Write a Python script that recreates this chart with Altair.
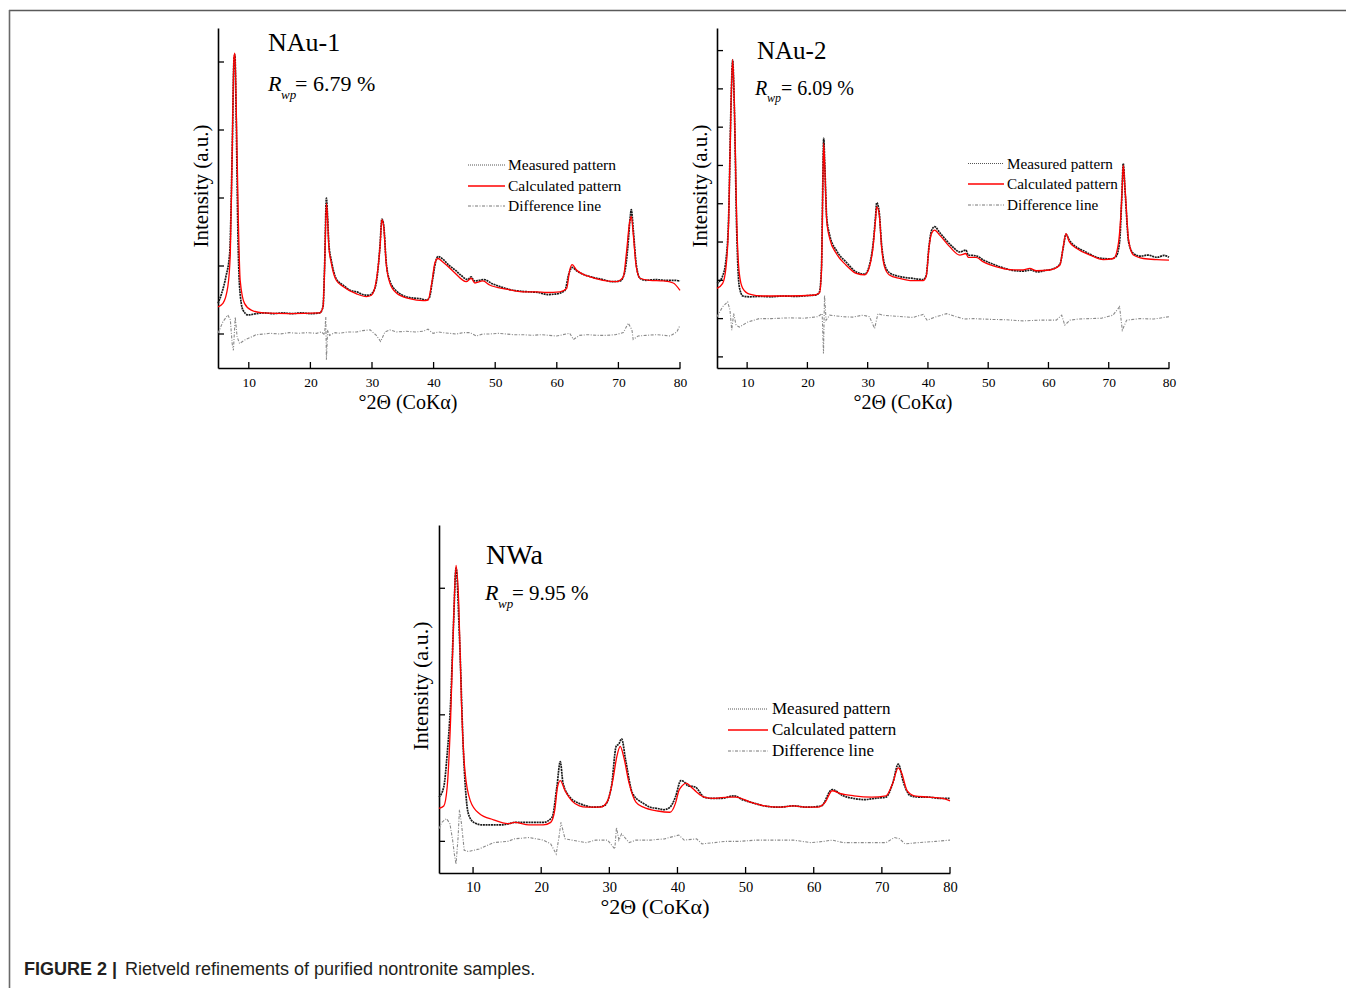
import altair as alt
import pandas as pd

# ---------------- data ----------------
# x = degrees 2-theta (CoKa), y = intensity in tick units of each panel's y axis
X_TICKS = [10, 20, 30, 40, 50, 60, 70, 80]
LEGEND_LABELS = ["Measured pattern", "Calculated pattern", "Difference line"]
SAMPLES = ["NAu-1", "NAu-2", "NWa"]
RWP = ["= 6.79 %", "= 6.09 %", "= 9.95 %"]
X_TITLE = "°2Θ (CoKα)"
Y_TITLE = "Intensity (a.u.)"
CAPTION_BOLD = "FIGURE 2 |"
CAPTION_TEXT = "Rietveld refinements of purified nontronite samples."

# ---- NAu-1 ----
p1_calc_x = [5.0, 5.8, 6.6, 7.0, 7.3, 7.6, 7.75, 7.95, 8.3, 8.6, 9.3, 10.4, 12.3, 16.6, 21.5, 22.05, 22.3, 22.6,
             22.75, 23.0, 23.4, 24.2, 25.3, 27.5, 29.1, 29.9, 30.7, 31.3, 31.6, 31.9, 32.3, 32.9, 34.0, 36.1, 38.3,
             39.1, 39.7, 40.2, 40.7, 41.5, 43.2, 45.3, 46.1, 46.7, 48.0, 49.1, 51.8, 54.5, 56.7, 58.3, 60.5, 61.6,
             62.1, 62.5, 63.2, 65.4, 67.5, 69.7, 70.8, 71.3, 71.8, 72.1, 72.4, 72.9, 73.5, 75.1, 77.3, 78.9, 80.0]
p1_calc_y = [0.40, 0.45, 0.70, 1.19, 2.66, 4.08, 4.13, 3.39, 1.68, 0.79, 0.45, 0.35, 0.31, 0.30, 0.31, 0.40, 0.94,
             1.92, 1.75, 1.28, 1.04, 0.79, 0.70, 0.59, 0.55, 0.57, 0.79, 1.28, 1.68, 1.58, 1.04, 0.75, 0.60, 0.52,
             0.49, 0.50, 0.75, 1.04, 1.11, 1.06, 0.92, 0.77, 0.82, 0.75, 0.78, 0.72, 0.66, 0.62, 0.62, 0.61, 0.62,
             0.67, 0.94, 1.02, 0.94, 0.84, 0.79, 0.77, 0.84, 1.19, 1.63, 1.73, 1.48, 0.99, 0.82, 0.79, 0.78, 0.75,
             0.64]
p1_meas_x = [5.0, 5.6, 6.3, 6.9, 7.3, 7.6, 7.75, 7.95, 8.25, 8.5, 9.06, 9.9, 11.2, 12.5, 14.0, 15.5, 17.0, 18.5,
             20.0, 21.5, 22.05, 22.3, 22.6, 22.75, 23.0, 23.4, 24.2, 25.3, 26.5, 27.5, 28.5, 29.5, 30.2, 30.8, 31.3,
             31.6, 31.9, 32.3, 32.9, 34.0, 35.2, 36.5, 37.8, 38.8, 39.3, 39.8, 40.3, 40.7, 41.5, 42.5, 43.5, 44.5,
             45.5, 46.1, 46.6, 47.4, 48.2, 49.5, 51.0, 52.5, 54.0, 55.5, 57.0, 58.5, 60.0, 61.3, 62.0, 62.5, 63.2,
             64.5, 66.0, 67.5, 69.0, 70.3, 71.0, 71.5, 71.9, 72.1, 72.4, 72.9, 73.5, 74.5, 76.0, 77.5, 79.0, 80.0]
p1_meas_y = [0.45, 0.60, 0.85, 1.19, 2.66, 4.05, 4.10, 3.20, 1.40, 0.70, 0.35, 0.28, 0.30, 0.31, 0.30, 0.31, 0.30,
             0.31, 0.30, 0.31, 0.40, 0.98, 2.00, 1.80, 1.32, 1.08, 0.81, 0.72, 0.64, 0.62, 0.58, 0.57, 0.62, 0.82,
             1.30, 1.69, 1.60, 1.06, 0.78, 0.63, 0.56, 0.53, 0.52, 0.50, 0.53, 0.78, 1.05, 1.14, 1.10, 1.01, 0.94,
             0.86, 0.80, 0.84, 0.78, 0.79, 0.80, 0.74, 0.69, 0.65, 0.63, 0.62, 0.61, 0.58, 0.59, 0.64, 0.90, 0.98,
             0.93, 0.87, 0.83, 0.80, 0.77, 0.78, 0.90, 1.25, 1.70, 1.83, 1.55, 1.02, 0.82, 0.79, 0.80, 0.79, 0.79,
             0.78]
p1_diff_x = [5.0, 5.8, 6.6, 7.0, 7.3, 7.5, 7.8, 8.1, 8.5, 9.3, 10.5, 11.2, 12.5, 13.4, 15.0, 16.6, 18.0, 19.5, 21.0,
             21.8, 22.3, 22.5, 22.6, 22.8, 23.1, 24.0, 24.8, 26.0, 27.5, 28.5, 29.7, 30.7, 31.4, 32.1, 32.9, 34.0,
             35.6, 37.0, 38.3, 39.1, 39.9, 40.8, 41.5, 42.6, 43.7, 44.8, 45.9, 46.96, 48.0, 49.1, 50.5, 51.8, 53.0,
             54.5, 56.0, 57.5, 59.95, 61.0, 62.1, 62.7, 63.7, 65.0, 66.5, 68.1, 69.5, 70.8, 71.6, 72.2, 72.4, 73.2,
             74.5, 76.2, 77.5, 78.4, 79.5, 80.0]
p1_diff_y = [0.01, 0.18, 0.28, 0.21, -0.14, -0.24, 0.25, -0.04, -0.14, -0.09, -0.04, -0.01, 0.00, 0.01, 0.00, 0.02,
             0.01, 0.02, 0.01, 0.03, -0.01, 0.25, -0.38, 0.06, -0.02, 0.02, 0.01, 0.03, 0.03, 0.05, 0.06, -0.02,
             -0.11, 0.03, 0.06, 0.03, 0.04, 0.03, 0.04, 0.07, 0.01, 0.03, 0.02, 0.01, 0.00, 0.02, 0.02, -0.03, 0.00,
             0.00, 0.01, 0.00, -0.01, -0.01, -0.02, -0.01, -0.03, -0.01, 0.01, -0.08, -0.02, -0.01, -0.02, -0.02,
             -0.01, 0.02, 0.16, 0.06, -0.08, -0.03, -0.02, -0.01, -0.02, -0.03, 0.03, 0.13]

# ---- NAu-2 ----
p2_calc_x = [5.0, 5.94, 6.5, 6.94, 7.33, 7.6, 7.88, 8.27, 8.7, 9.27, 10.4, 12.6, 17.0, 20.9, 22.0, 22.34, 22.56,
             22.7, 22.9, 23.2, 23.7, 24.8, 26.4, 28.1, 29.5, 30.3, 30.9, 31.3, 31.5, 31.9, 32.3, 32.8, 33.6, 35.3,
             37.5, 39.2, 39.7, 40.2, 40.6, 41.1, 41.95, 43.6, 45.3, 46.3, 46.7, 48.0, 49.2, 51.4, 53.6, 55.8, 56.9,
             58.0, 60.2, 61.9, 62.45, 62.9, 63.45, 64.7, 66.9, 69.1, 70.8, 71.6, 72.2, 72.4, 72.76, 73.3, 74.1,
             75.75, 77.96, 80.0]
p2_calc_y = [1.79, 1.92, 2.35, 3.57, 6.62, 7.77, 6.62, 3.57, 2.18, 1.79, 1.64, 1.59, 1.59, 1.61, 1.67, 2.27, 4.44,
             5.58, 4.88, 3.57, 3.09, 2.70, 2.40, 2.18, 2.14, 2.35, 2.88, 3.57, 3.92, 3.75, 2.88, 2.35, 2.14, 2.05,
             1.99, 1.99, 2.09, 2.88, 3.22, 3.31, 3.18, 2.88, 2.66, 2.70, 2.60, 2.60, 2.48, 2.35, 2.28, 2.27, 2.31,
             2.25, 2.27, 2.40, 2.88, 3.22, 3.01, 2.83, 2.66, 2.54, 2.57, 2.96, 4.27, 5.01, 4.27, 3.05, 2.66, 2.57,
             2.54, 2.53]
p2_meas_x = [5.0, 5.9, 6.5, 6.94, 7.33, 7.6, 7.88, 8.27, 8.7, 9.3, 10.4, 12.0, 14.0, 16.0, 18.0, 20.0, 21.5, 22.0,
             22.34, 22.56, 22.7, 22.9, 23.2, 23.7, 24.8, 26.4, 28.1, 29.5, 30.3, 30.9, 31.3, 31.5, 31.9, 32.3, 32.8,
             33.6, 35.3, 37.5, 39.2, 39.7, 40.2, 40.6, 41.1, 41.95, 43.0, 44.2, 45.3, 46.3, 46.7, 47.5, 48.2, 49.2,
             50.5, 51.8, 53.0, 54.5, 55.8, 57.0, 58.2, 59.5, 60.8, 61.9, 62.45, 62.9, 63.45, 64.7, 65.8, 66.9, 68.0,
             69.1, 70.3, 71.2, 71.8, 72.2, 72.4, 72.76, 73.3, 74.1, 75.2, 76.5, 78.0, 79.2, 80.0]
p2_meas_y = [1.92, 2.10, 2.55, 3.70, 6.62, 7.75, 6.50, 3.30, 1.83, 1.59, 1.57, 1.58, 1.57, 1.59, 1.58, 1.60, 1.62,
             1.70, 2.35, 4.60, 5.71, 4.95, 3.65, 3.18, 2.78, 2.48, 2.22, 2.16, 2.40, 2.95, 3.65, 4.03, 3.80, 2.95,
             2.42, 2.20, 2.10, 2.05, 2.02, 2.12, 2.92, 3.30, 3.40, 3.25, 3.05, 2.86, 2.74, 2.79, 2.66, 2.65, 2.63,
             2.53, 2.44, 2.36, 2.30, 2.25, 2.24, 2.27, 2.22, 2.26, 2.30, 2.42, 2.85, 3.20, 3.05, 2.86, 2.77, 2.68,
             2.60, 2.57, 2.56, 2.62, 3.00, 4.30, 5.05, 4.20, 3.00, 2.70, 2.63, 2.66, 2.60, 2.65, 2.60]
p2_diff_x = [5.0, 5.94, 6.77, 7.16, 7.44, 7.77, 8.16, 8.7, 10.1, 12.0, 14.0, 17.0, 19.5, 21.7, 22.45, 22.67, 22.84,
             23.1, 23.7, 25.9, 27.5, 29.2, 30.3, 31.15, 31.7, 32.5, 34.0, 35.9, 37.5, 39.2, 39.85, 41.4, 43.1, 44.7,
             46.0, 47.5, 50.3, 53.0, 55.8, 58.5, 61.3, 62.2, 62.7, 63.6, 65.0, 66.9, 68.8, 70.7, 71.8, 72.25, 72.97,
             75.2, 77.5, 80.0]
p2_diff_y = [1.05, 1.31, 1.44, 1.22, 0.70, 1.13, 0.83, 0.78, 0.91, 1.00, 1.00, 1.02, 1.01, 1.05, 1.13, 0.09, 1.61,
             0.96, 1.09, 1.05, 1.04, 1.09, 1.05, 0.74, 1.13, 1.09, 1.07, 1.05, 1.03, 1.11, 0.96, 1.05, 1.13, 1.05,
             0.99, 1.00, 0.98, 0.97, 0.94, 0.96, 0.96, 1.09, 0.83, 0.96, 0.99, 1.00, 1.01, 1.09, 1.31, 0.70, 0.96,
             1.00, 0.99, 1.05]

# ---- NWa ----
p3_calc_x = [5.0, 5.7, 6.2, 6.7, 7.15, 7.5, 7.9, 8.3, 8.8, 9.6, 10.9, 13.0, 15.1, 16.1, 18.2, 20.3, 21.4, 22.0, 22.4,
             22.8, 23.5, 24.5, 25.6, 26.6, 28.7, 29.75, 30.5, 31.1, 31.6, 32.1, 32.9, 33.9, 35.0, 37.1, 38.9, 39.7,
             40.2, 40.7, 41.3, 42.0, 42.8, 43.9, 45.4, 47.5, 48.6, 50.7, 52.8, 54.9, 57.0, 59.05, 60.6, 61.7, 62.7,
             63.8, 65.9, 68.5, 70.6, 71.6, 72.4, 72.9, 73.7, 74.75, 76.8, 78.9, 80.0]
p3_calc_y = [0.26, 0.28, 0.43, 0.96, 1.75, 2.18, 1.88, 1.09, 0.56, 0.32, 0.22, 0.17, 0.14, 0.15, 0.13, 0.13, 0.15,
             0.25, 0.43, 0.48, 0.40, 0.32, 0.28, 0.27, 0.27, 0.32, 0.48, 0.67, 0.75, 0.67, 0.46, 0.31, 0.27, 0.24,
             0.23, 0.30, 0.40, 0.44, 0.46, 0.43, 0.39, 0.35, 0.34, 0.35, 0.35, 0.31, 0.28, 0.27, 0.28, 0.27, 0.27,
             0.31, 0.40, 0.38, 0.36, 0.35, 0.36, 0.46, 0.58, 0.54, 0.40, 0.36, 0.35, 0.34, 0.32]
p3_meas_x = [5.0, 5.7, 6.2, 6.7, 7.15, 7.5, 8.0, 8.6, 9.3, 10.1, 11.4, 12.7, 14.05, 15.3, 16.1, 17.5, 19.0, 20.3,
             21.6, 22.3, 22.8, 23.2, 24.2, 25.6, 26.6, 27.7, 29.2, 30.3, 31.0, 31.4, 31.8, 32.4, 33.4, 35.0, 36.0,
             37.1, 38.0, 38.9, 39.7, 40.5, 41.0, 41.5, 42.6, 43.9, 45.0, 46.5, 48.3, 49.5, 50.7, 52.8, 54.9, 57.0,
             59.05, 61.1, 62.7, 64.3, 65.8, 67.4, 69.0, 70.6, 71.6, 72.4, 73.2, 74.2, 75.5, 76.8, 78.5, 80.0]
p3_meas_y = [0.35, 0.43, 0.69, 1.09, 1.75, 2.16, 1.62, 0.69, 0.22, 0.15, 0.13, 0.13, 0.13, 0.14, 0.15, 0.15, 0.15,
             0.15, 0.19, 0.43, 0.63, 0.46, 0.35, 0.30, 0.28, 0.27, 0.28, 0.43, 0.75, 0.77, 0.81, 0.64, 0.38, 0.30,
             0.27, 0.26, 0.25, 0.27, 0.35, 0.48, 0.47, 0.44, 0.43, 0.35, 0.34, 0.34, 0.36, 0.33, 0.31, 0.28, 0.27,
             0.28, 0.27, 0.28, 0.41, 0.36, 0.34, 0.33, 0.34, 0.35, 0.46, 0.61, 0.46, 0.36, 0.35, 0.35, 0.34, 0.34]
p3_diff_x = [5.0, 5.4, 6.1, 6.6, 7.0, 7.25, 7.5, 7.8, 8.0, 8.3, 8.7, 9.3, 10.9, 13.0, 15.1, 16.1, 18.2, 20.3, 21.4,
             22.2, 22.6, 22.9, 23.5, 24.5, 26.6, 28.0, 29.75, 30.8, 31.05, 31.4, 31.8, 32.9, 33.9, 36.0, 38.1, 40.2,
             41.0, 42.8, 43.6, 45.4, 47.0, 49.1, 51.5, 54.3, 57.0, 59.6, 61.5, 62.7, 64.3, 67.4, 70.6, 71.85, 72.6,
             73.4, 75.3, 77.9, 80.0]
p3_diff_y = [0.10, 0.15, 0.18, 0.14, 0.01, -0.10, -0.18, 0.03, 0.25, 0.14, -0.07, -0.08, -0.06, -0.01, 0.00, 0.02,
             0.03, 0.01, -0.02, -0.10, 0.03, 0.15, 0.02, 0.01, -0.01, 0.01, 0.01, -0.06, 0.11, 0.01, 0.06, -0.01,
             0.01, 0.01, 0.02, 0.05, 0.01, 0.02, -0.02, -0.01, 0.00, 0.00, 0.01, 0.01, 0.01, -0.01, 0.00, 0.01,
             -0.01, -0.01, -0.01, 0.03, 0.02, -0.02, -0.01, 0.00, 0.01]

# ---------------- layout / style ----------------
W, H = 1346, 988
SERIF = "Liberation Serif"
SANS = "Liberation Sans"
RED = "#ff0000"
MEAS_COLOR = "#1a1a1a"
DIFF_COLOR = "#8a8a8a"

PANELS = [
    dict(name=SAMPLES[0], rwp=RWP[0], calc=(p1_calc_x, p1_calc_y), meas=(p1_meas_x, p1_meas_y),
         diff=(p1_diff_x, p1_diff_y), x0=218, x1=680, yb=368, yt=28, ydom=[-0.5, 4.5], yticks=[0, 1, 2, 3, 4],
         lfs=13.5, name_pos=(268, 51, 26), r_pos=(268, 91, 22), sub_pos=(281, 99, 13), eq_pos=(295, 91, 22),
         leg=(468, 505, 508, [165, 186, 206], 15.5), xt=(408, 409, 20), yt_=(202, 186, 21)),
    dict(name=SAMPLES[1], rwp=RWP[1], calc=(p2_calc_x, p2_calc_y), meas=(p2_meas_x, p2_meas_y),
         diff=(p2_diff_x, p2_diff_y), x0=717, x1=1169, yb=368, yt=28, ydom=[-0.29, 8.59],
         yticks=[0, 1, 2, 3, 4, 5, 6, 7, 8], lfs=13.5, name_pos=(757, 59, 25), r_pos=(755, 95, 20),
         sub_pos=(767, 102, 12), eq_pos=(781, 95, 20),
         leg=(968, 1004, 1007, [163.5, 184, 205], 15.2), xt=(903, 409, 20), yt_=(701, 186, 21)),
    dict(name=SAMPLES[2], rwp=RWP[2], calc=(p3_calc_x, p3_calc_y), meas=(p3_meas_x, p3_meas_y),
         diff=(p3_diff_x, p3_diff_y), x0=439, x1=950, yb=873, yt=525, ydom=[-0.25, 2.5], yticks=[0, 1, 2],
         lfs=14.5, name_pos=(486, 564, 28), r_pos=(485, 600, 22), sub_pos=(498, 608, 13), eq_pos=(512, 600, 21),
         leg=(728, 768, 772, [709, 730, 751], 17), xt=(655, 914, 22), yt_=(421, 686, 22)),
]


def text_layer(txt, x, y, size, font=SERIF, style="normal", weight="normal", align="left",
               baseline="alphabetic", angle=0, color="black"):
    return alt.Chart(pd.DataFrame({"t": [txt]})).mark_text(
        font=font, fontSize=size, fontStyle=style, fontWeight=weight, align=align,
        baseline=baseline, angle=angle, color=color
    ).encode(text="t:N", x=alt.value(x), y=alt.value(y))


def panel(p):
    xs = alt.Scale(domain=[5, 80], range=[p["x0"], p["x1"]], nice=False, zero=False)
    ys = alt.Scale(domain=p["ydom"], range=[p["yb"], p["yt"]], nice=False, zero=False)
    xaxis = alt.Axis(orient="bottom", offset=p["yb"] - H, values=X_TICKS, ticks=False, grid=False, title=None,
                     labelFont=SERIF, labelFontSize=p["lfs"], labelColor="black", labelPadding=7,
                     labelFlush=False, labelOverlap=False, domainColor="black", domainWidth=1.6)
    yaxis = alt.Axis(orient="left", offset=-p["x0"], labels=False, ticks=False, grid=False, title=None,
                     domainColor="black", domainWidth=1.6)

    def X(field):
        return alt.X(field, scale=xs, axis=xaxis)

    def Y(field):
        return alt.Y(field, scale=ys, axis=yaxis)

    def df(pair):
        return pd.DataFrame({"x": pair[0], "y": pair[1]})

    diff = alt.Chart(df(p["diff"])).mark_line(
        color=DIFF_COLOR, strokeWidth=1.1, strokeDash=[3, 1.5, 1, 1.5], interpolate="linear"
    ).encode(x=X("x:Q"), y=Y("y:Q"))
    meas = alt.Chart(df(p["meas"])).mark_line(
        color=MEAS_COLOR, strokeWidth=1.7, strokeDash=[2, 0.7], interpolate="monotone"
    ).encode(x=X("x:Q"), y=Y("y:Q"))
    calc = alt.Chart(df(p["calc"])).mark_line(
        color=RED, strokeWidth=1.3, interpolate="monotone"
    ).encode(x=X("x:Q"), y=Y("y:Q"))

    xt = alt.Chart(pd.DataFrame({"x": X_TICKS})).mark_rule(color="black", strokeWidth=1.3).encode(
        x=X("x:Q"), y=alt.value(p["yb"]), y2=alt.value(p["yb"] - 6))
    yt = alt.Chart(pd.DataFrame({"y": p["yticks"]})).mark_rule(color="black", strokeWidth=1.3).encode(
        y=Y("y:Q"), x=alt.value(p["x0"]), x2=alt.value(p["x0"] + 6))

    layers = [diff, meas, calc, xt, yt]

    nx, ny, nfs = p["name_pos"]
    layers.append(text_layer(p["name"], nx, ny, nfs))
    rx, ry, rfs = p["r_pos"]
    layers.append(text_layer("R", rx, ry, rfs, style="italic"))
    sx, sy, sfs = p["sub_pos"]
    layers.append(text_layer("wp", sx, sy, sfs, style="italic"))
    ex, ey, efs = p["eq_pos"]
    layers.append(text_layer(p["rwp"], ex, ey, efs))

    lx0, lx1, tx, lys, lfs = p["leg"]
    styles = [dict(color="#555555", strokeWidth=1.0, strokeDash=[1, 1]),
              dict(color=RED, strokeWidth=1.5),
              dict(color="#777777", strokeWidth=1.0, strokeDash=[3, 1.5, 1, 1.5])]
    for lab, ly, st in zip(LEGEND_LABELS, lys, styles):
        layers.append(alt.Chart(pd.DataFrame({"t": [lab]})).mark_rule(**st).encode(
            x=alt.value(lx0), x2=alt.value(lx1), y=alt.value(ly)))
        layers.append(text_layer(lab, tx, ly, lfs, baseline="middle"))

    tcx, tcy, tfs = p["xt"]
    layers.append(text_layer(X_TITLE, tcx, tcy, tfs, align="center"))
    ycx, ycy, yfs = p["yt_"]
    layers.append(text_layer(Y_TITLE, ycx, ycy, yfs, align="center", baseline="middle", angle=270))
    return alt.layer(*layers)


frame_top = alt.Chart(pd.DataFrame({"t": ["frame"]})).mark_rule(color="#5a5a5a", strokeWidth=1.6).encode(
    x=alt.value(9), x2=alt.value(W), y=alt.value(10.5))
frame_left = alt.Chart(pd.DataFrame({"t": ["frame"]})).mark_rule(color="#6a6a6a", strokeWidth=1.6).encode(
    x=alt.value(9.5), y=alt.value(10), y2=alt.value(H))

cap1 = text_layer(CAPTION_BOLD, 24, 975, 18, font=SANS, weight="bold", color="#231f20")
cap2 = text_layer(CAPTION_TEXT, 125, 975, 18, font=SANS, color="#231f20")

chart = alt.layer(
    frame_top, frame_left, panel(PANELS[0]), panel(PANELS[1]), panel(PANELS[2]), cap1, cap2
).resolve_scale(x="independent", y="independent").properties(
    width=W, height=H, padding=0, autosize=alt.AutoSizeParams(type="none"), background="white"
).configure_view(strokeWidth=0)

chart.save("out.html", embed_options={"renderer": "svg", "actions": False})
